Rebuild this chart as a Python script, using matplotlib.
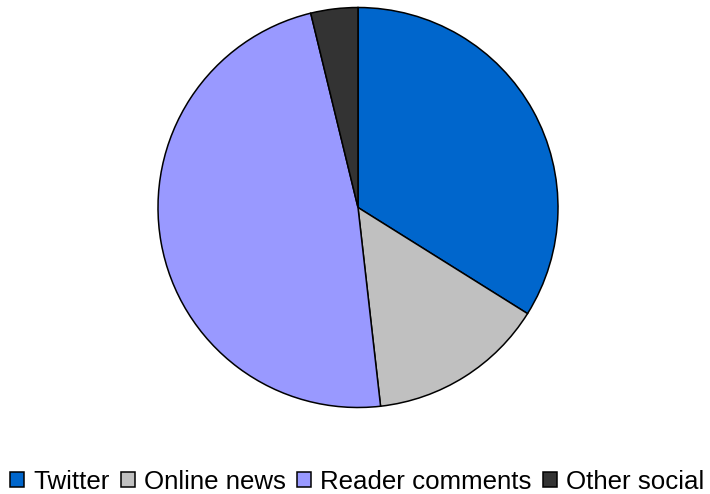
import matplotlib
matplotlib.use("Agg")
import matplotlib.pyplot as plt

categories = ["Twitter", "Online news", "Reader comments", "Other social"]
values = [33.9, 14.3, 48.0, 3.8]
colors = ["#0066CC", "#C0C0C0", "#9999FF", "#333333"]

plt.rcParams['font.family'] = ['Liberation Sans', 'DejaVu Sans']

fig = plt.figure(figsize=(7.1, 4.94), dpi=100)
cx, cy, r = 358, 494 - 207.5, 201
ax = fig.add_axes([(cx - r) / 710, (cy - r) / 494, 2 * r / 710, 2 * r / 494])
wedges, _ = ax.pie(values, colors=colors, startangle=90, counterclock=False,
                   wedgeprops=dict(edgecolor='black', linewidth=1.1))
ax.set_xlim(-1.005, 1.005)
ax.set_ylim(-1.005, 1.005)
ax.set_aspect('equal')

fig.legend(wedges, categories, loc='center', bbox_to_anchor=(357 / 710, 12.5 / 494),
           ncol=4, frameon=False, fontsize=18.6,
           handlelength=0.55, handleheight=0.55, handletextpad=0.33,
           columnspacing=0.45, borderaxespad=0, borderpad=0)

fig.savefig("out.png", dpi=100)
